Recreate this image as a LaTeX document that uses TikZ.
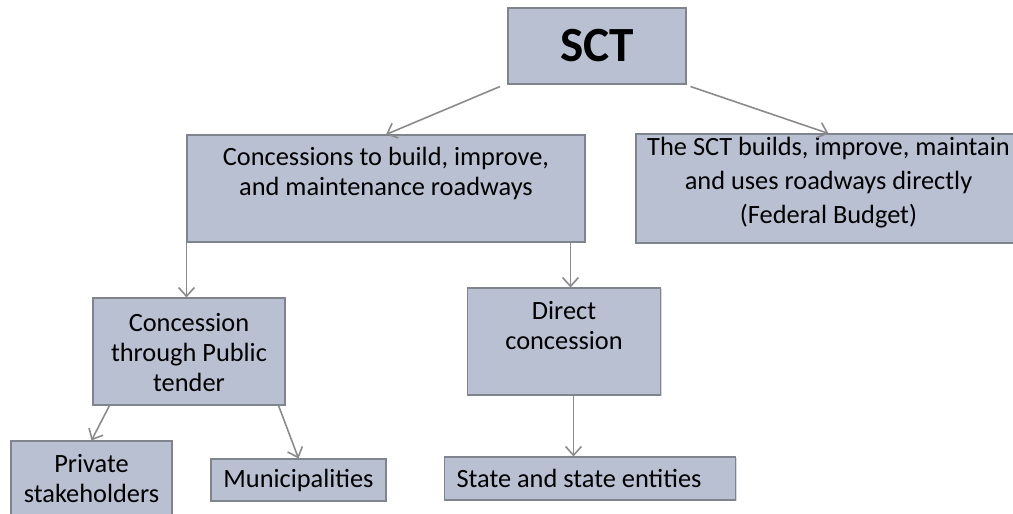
\documentclass[tikz,border=0pt]{standalone}
\usepackage{fontspec}
\setmainfont{Carlito}
\usetikzlibrary{arrows.meta,shadows}
\definecolor{boxfill}{RGB}{185,192,210}
\definecolor{boxline}{RGB}{128,132,142}
\definecolor{arrowgray}{RGB}{138,138,140}

\begin{document}
\begin{tikzpicture}[
    box/.style={draw=boxline, line width=0.6pt, fill=boxfill, inner sep=0pt,
        drop shadow={shadow xshift=0.6pt, shadow yshift=-0.8pt, opacity=0.3},
        font=\fontsize{15}{17}\selectfont},
    txt/.style={anchor=north, align=center, inner sep=0pt,
        font=\fontsize{15}{17}\selectfont},
    link/.style={draw=arrowgray, line width=0.9pt,
        -{Straight Barb[length=5pt, width=9pt]}}
]
\useasboundingbox (0,0) rectangle (20.26,-10.28);

%% Help lines
% \begin{scope}[help lines, opacity=0.1]
%     \draw[step=0.5] (0,0) grid (20.26,-10.28);
% \end{scope}

%% Top
\node[box, minimum width=3.56cm, minimum height=1.52cm,
    font=\fontsize{28}{30}\selectfont\bfseries] (sct) at (11.94,-0.92) {\raisebox{-0.08cm}{SCT}};

%% Second row
\node[box, minimum width=7.96cm, minimum height=2.14cm,
    label={[txt, yshift=-0.24cm]north:{Concessions to build, improve,\\and maintenance roadways}}]
    (concess) at (7.72,-3.77) {};
\node[box, minimum width=7.70cm, minimum height=2.18cm,
    label={[txt, yshift=-0.06cm, font=\fontsize{15}{19.5}\selectfont]north:{The SCT builds, improve, maintain\\and uses roadways directly\\(Federal Budget)}}]
    (budget) at (16.57,-3.77) {};

%% Third row
\node[box, minimum width=3.84cm, minimum height=2.14cm,
    label={[txt, yshift=-0.32cm]north:{Concession\\through Public\\tender}}]
    (tender) at (3.78,-7.03) {};
\node[box, minimum width=3.86cm, minimum height=2.14cm,
    label={[txt, yshift=-0.28cm]north:{Direct\\concession}}]
    (direct) at (11.28,-6.83) {};

%% Bottom row
\node[box, minimum width=3.22cm, minimum height=1.80cm,
    label={[txt, yshift=-0.28cm]north:{Private\\stakeholders}}]
    (private) at (1.83,-9.72) {};
\node[box, minimum width=3.50cm, minimum height=0.84cm] (muni) at (5.97,-9.60) {Municipalities};
\node[box, minimum height=0.86cm, inner xsep=0.24cm, text width=5.34cm, align=flush left]
    (state) at (11.80,-9.57) {State and state entities};

%% Arrows
\coordinate (dtop) at ([xshift=0.13cm]direct.north);
\coordinate (dbot) at ([xshift=0.19cm]direct.south);

\draw[link] ([xshift=-0.15cm, yshift=-0.04cm]sct.south west) -- (concess.north);
\draw[link] ([xshift=0.08cm, yshift=-0.04cm]sct.south east) -- (budget.north);
\draw[link] (concess.south west) -- (concess.south west |- tender.north);
\draw[link] (dtop |- concess.south) -- (dtop);
\draw[link] ([xshift=0.34cm]tender.south west) -- (private.north);
\draw[link] ([xshift=-0.14cm]tender.south east) -- (muni.north);
\draw[link] (dbot) -- (dbot |- state.north);
\end{tikzpicture}
\end{document}
